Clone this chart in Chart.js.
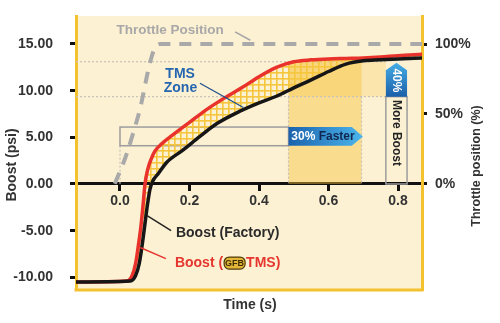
<!DOCTYPE html>
<html lang="en">
<head>
<meta charset="UTF-8">
<title>Boost vs Throttle Position</title>
<style>
  html, body { margin: 0; padding: 0; background: #fff; }
  #wrap { width: 500px; height: 323px; }
</style>
</head>
<body>
<div id="wrap"><canvas id="boostChart" width="500" height="323"></canvas></div>
<script src="https://cdn.jsdelivr.net/npm/chart.js"></script>
<script>
// values
const tmsTime  = [-0.13, 0.02, 0.035, 0.045, 0.052, 0.06, 0.066, 0.072, 0.08, 0.09, 0.1, 0.12, 0.15, 0.2, 0.25, 0.3, 0.35, 0.4, 0.45, 0.5, 0.55, 0.6, 0.65, 0.7, 0.75, 0.8, 0.87];
const tmsBoost = [-10.5, -10.4, -9.8, -8.5, -6.8, -4.6, -2.4, 0.0, 1.6, 2.7, 3.5, 4.3, 5.2, 6.6, 8.0, 9.2, 10.3, 11.5, 12.5, 13.1, 13.3, 13.4, 13.45, 13.5, 13.6, 13.75, 13.9];

const factoryTime  = [-0.13, 0.03, 0.045, 0.055, 0.062, 0.07, 0.078, 0.086, 0.094, 0.11, 0.134, 0.18, 0.23, 0.28, 0.345, 0.4, 0.45, 0.5, 0.55, 0.6, 0.65, 0.7, 0.75, 0.8, 0.87];
const factoryBoost = [-10.5, -10.4, -9.8, -8.6, -7.0, -4.8, -2.5, -0.6, 0.3, 1.1, 2.3, 3.6, 5.1, 6.5, 7.8, 8.7, 9.4, 10.3, 11.15, 12.05, 12.85, 13.2, 13.3, 13.4, 13.5];

const throttleTime = [-0.015, -0.01, 0.0, 0.01, 0.02, 0.04, 0.06, 0.07, 0.08, 0.09, 0.1, 0.115, 0.13, 0.87];
const throttlePct  = [0, 3, 9, 15, 22, 38, 56, 68, 80, 90, 97, 100, 100, 100];

const timeTicks = [0, 0.2, 0.4, 0.6, 0.8];
const boostTicks = [-10, -5, 0, 5, 10, 15];
const throttleTicks = [0, 50, 100];

const FONT = '"Liberation Sans", Arial, sans-serif';
const CREAM = '#fdf1d3';
const GOLD = '#f4c22f';

function toPoints(xs, ys) {
    return xs.map((x, i) => ({ x: x, y: ys[i] }));
}

function gridPattern() {
    const c = document.createElement('canvas');
    c.width = 6; c.height = 6;
    const g = c.getContext('2d');
    g.fillStyle = '#f6c63e';
    g.fillRect(0, 0, 6, 1.6);
    g.fillRect(0, 0, 1.6, 6);
    return g.createPattern(c, 'repeat');
}

function seg(ctx, x1, y1, x2, y2) {
    ctx.beginPath();
    ctx.moveTo(x1, y1);
    ctx.lineTo(x2, y2);
    ctx.stroke();
}

function label(ctx, str, x, y, size, color, align, rot) {
    ctx.save();
    ctx.translate(x, y);
    if (rot) ctx.rotate(rot);
    ctx.font = 'bold ' + size + 'px ' + FONT;
    ctx.fillStyle = color;
    ctx.textAlign = align || 'left';
    ctx.textBaseline = 'middle';
    ctx.fillText(str, 0, 0);
    ctx.restore();
}

// no extra label padding, so the plot area sits where the reference has it
function noPad(s) {
    s.paddingTop = 0; s.paddingBottom = 0;
    s.paddingLeft = 0; s.paddingRight = 0;
}

// background, zones, callouts and axis titles
const annotate = {
    id: 'annotate',
    beforeDraw(chart) {
        const { ctx, chartArea: a } = chart;
        ctx.save();
        ctx.fillStyle = CREAM;
        ctx.fillRect(a.left, a.top, a.right - a.left, a.bottom - a.top);
        ctx.restore();
    },
    beforeDatasetsDraw(chart) {
        const { ctx, chartArea: a, scales } = chart;
        const X = v => scales.x.getPixelForValue(v);
        const Y = v => scales.y.getPixelForValue(v);
        ctx.save();
        ctx.fillStyle = 'rgba(247,196,60,0.45)';
        ctx.fillRect(X(0.485), Y(13.1), X(0.695) - X(0.485), Y(0) - Y(13.1));
        ctx.fillStyle = 'rgba(247,196,60,0.25)';
        ctx.fillRect(X(0.485), Y(13.1), X(0.765) - X(0.485), Y(9.36) - Y(13.1));

        ctx.strokeStyle = '#c7c2b8';
        ctx.lineWidth = 1.2;
        ctx.setLineDash([2, 2]);
        seg(ctx, a.left, Y(13.1), X(0.765), Y(13.1));
        seg(ctx, a.left, Y(9.36), X(0.765), Y(9.36));
        seg(ctx, X(0.485), Y(9.36), X(0.485), Y(0));
        seg(ctx, X(0.695), Y(9.36), X(0.695), Y(0));
        seg(ctx, X(0), Y(4.1), X(0), Y(0));
        ctx.setLineDash([]);

        ctx.strokeStyle = '#9c9c9c';
        ctx.lineWidth = 1.5;
        ctx.strokeRect(X(0), Y(6.1), X(0.485) - X(0), Y(4.1) - Y(6.1));
        ctx.strokeRect(X(0.765), Y(9.36), X(0.826) - X(0.765), Y(0) - Y(9.36));
        ctx.restore();
    },
    afterDatasetsDraw(chart) {
        const { ctx, chartArea: a, scales } = chart;
        const X = v => scales.x.getPixelForValue(v);
        const Y = v => scales.y.getPixelForValue(v);
        ctx.save();

        // "30% Faster" arrow
        let x0 = X(0.485), x1 = X(0.667), x2 = X(0.699), yT = Y(6.1), yB = Y(4.1);
        let gr = ctx.createLinearGradient(x0, 0, x2, 0);
        gr.addColorStop(0, '#1b62ad');
        gr.addColorStop(1, '#4cb6ec');
        ctx.fillStyle = gr;
        ctx.beginPath();
        ctx.moveTo(x0, yT); ctx.lineTo(x1, yT); ctx.lineTo(x2, (yT + yB) / 2);
        ctx.lineTo(x1, yB); ctx.lineTo(x0, yB); ctx.closePath();
        ctx.fill();
        ctx.font = 'bold 12px ' + FONT;
        const w30 = ctx.measureText('30% ').width;
        label(ctx, '30% ', X(0.493), Y(5.1), 12, '#ffffff', 'left');
        label(ctx, 'Faster', X(0.493) + w30, Y(5.1), 12, '#10284f', 'left');

        // "40%" arrow
        const bl = X(0.765), br = X(0.826);
        const yBase = Y(9.36), yShoulder = Y(12.2), yTip = Y(13.0);
        gr = ctx.createLinearGradient(0, yBase, 0, yTip);
        gr.addColorStop(0, '#1b5fa9');
        gr.addColorStop(1, '#45aee6');
        ctx.fillStyle = gr;
        ctx.beginPath();
        ctx.moveTo(bl, yBase); ctx.lineTo(bl, yShoulder); ctx.lineTo((bl + br) / 2, yTip);
        ctx.lineTo(br, yShoulder); ctx.lineTo(br, yBase); ctx.closePath();
        ctx.fill();
        label(ctx, '40%', (bl + br) / 2, Y(11.1), 12, '#ffffff', 'center', Math.PI / 2);
        label(ctx, 'More Boost', (bl + br) / 2, Y(5.47), 12, '#222222', 'center', Math.PI / 2);

        // text callouts
        label(ctx, 'Throttle Position', X(0.144), Y(16.5), 13.5, '#a8a8a8', 'center');
        ctx.strokeStyle = '#a5a5a5'; ctx.lineWidth = 1.5;
        seg(ctx, X(0.331), Y(16.3), X(0.375), Y(15.4));

        label(ctx, 'TMS', X(0.173), Y(11.8), 14, '#2466b0', 'center');
        label(ctx, 'Zone', X(0.174), Y(10.26), 14, '#2466b0', 'center');
        ctx.strokeStyle = '#1f4f8c'; ctx.lineWidth = 1.3;
        seg(ctx, X(0.23), Y(10.8), X(0.355), Y(8.2));

        label(ctx, 'Boost (Factory)', X(0.161), Y(-5.25), 14, '#2a2a2a', 'left');
        ctx.strokeStyle = '#222'; ctx.lineWidth = 1.5;
        seg(ctx, X(0.078), Y(-3.4), X(0.147), Y(-5.0));

        const tx = X(0.158), ty = Y(-8.47);
        ctx.font = 'bold 14px ' + FONT;
        const wB = ctx.measureText('Boost (').width;
        label(ctx, 'Boost (', tx, ty, 14, '#e5362f', 'left');
        ctx.fillStyle = '#e2b53a'; ctx.strokeStyle = '#4d3a05'; ctx.lineWidth = 1.2;
        ctx.beginPath();
        ctx.roundRect(tx + wB + 1, ty - 6, 21, 12, 5);
        ctx.fill(); ctx.stroke();
        label(ctx, 'GFB', tx + wB + 11.5, ty + 0.5, 9, '#3d2d00', 'center');
        label(ctx, 'TMS)', tx + wB + 23, ty, 14, '#e5362f', 'left');
        ctx.strokeStyle = '#e5362f'; ctx.lineWidth = 1.5;
        seg(ctx, X(0.058), Y(-6.8), X(0.132), Y(-8.0));

        // bottom frame line
        ctx.strokeStyle = GOLD; ctx.lineWidth = 3;
        seg(ctx, a.left - 1.5, a.bottom, a.right + 1.5, a.bottom);

        // axis titles
        label(ctx, 'Boost (psi)', 12, 165, 14, '#333', 'center', -Math.PI / 2);
        label(ctx, 'Throttle position (%)', 477, 166, 12.5, '#333', 'center', -Math.PI / 2);
        label(ctx, 'Time (s)', (a.left + a.right) / 2 + 1, 305, 14, '#333', 'center');
        ctx.restore();
    }
};

const tickFont = { family: FONT, size: 14, weight: 'bold' };

const ctx = document.getElementById('boostChart').getContext('2d');
new Chart(ctx, {
    type: 'line',
    data: {
        datasets: [
            {
                label: 'Boost (TMS)',
                data: toPoints(tmsTime, tmsBoost),
                yAxisID: 'y',
                borderColor: '#e8322b',
                borderWidth: 3.5,
                pointRadius: 0,
                cubicInterpolationMode: 'monotone',
                fill: { target: '+1', above: gridPattern(), below: 'rgba(0,0,0,0)' },
                order: 2
            },
            {
                label: 'Boost (Factory)',
                data: toPoints(factoryTime, factoryBoost),
                yAxisID: 'y',
                borderColor: '#161616',
                borderWidth: 3.5,
                pointRadius: 0,
                cubicInterpolationMode: 'monotone',
                fill: false,
                order: 1
            },
            {
                label: 'Throttle Position',
                data: toPoints(throttleTime, throttlePct),
                yAxisID: 'y1',
                borderColor: '#a9a9a9',
                borderWidth: 4,
                borderDash: [12, 9],
                pointRadius: 0,
                cubicInterpolationMode: 'monotone',
                fill: false,
                order: 3
            }
        ]
    },
    options: {
        responsive: false,
        animation: false,
        devicePixelRatio: 1,
        events: [],
        layout: { padding: { top: 16, bottom: 33, left: 0, right: 0 } },
        plugins: { legend: { display: false }, tooltip: { enabled: false } },
        scales: {
            x: {
                type: 'linear',
                position: { y: 0 },
                min: -0.1266,
                max: 0.869,
                z: 1,
                afterFit: noPad,
                afterBuildTicks: s => { s.ticks = timeTicks.map(v => ({ value: v })); },
                ticks: { font: tickFont, color: '#333', padding: 3, callback: v => v.toFixed(1) },
                grid: { drawOnChartArea: false, drawTicks: true, tickLength: 6, tickColor: '#111', tickWidth: 3 },
                border: { color: '#111', width: 3 }
            },
            y: {
                type: 'linear',
                position: 'left',
                min: -11.36,
                max: 18.0,
                afterFit: s => { s.width = 76; noPad(s); },
                afterBuildTicks: s => { s.ticks = boostTicks.map(v => ({ value: v })); },
                ticks: { font: tickFont, color: '#333', padding: 17, callback: v => v.toFixed(2) },
                grid: { drawOnChartArea: false, drawTicks: true, tickLength: 6, tickColor: '#111', tickWidth: 3 },
                border: { color: GOLD, width: 3 }
            },
            y1: {
                type: 'linear',
                position: 'right',
                min: -75.97,
                max: 120.03,
                afterFit: s => { s.width = 78; noPad(s); },
                afterBuildTicks: s => { s.ticks = throttleTicks.map(v => ({ value: v })); },
                ticks: { font: tickFont, color: '#333', padding: 8, callback: v => v + '%' },
                grid: { drawOnChartArea: false, drawTicks: true, tickLength: 5, tickColor: '#111', tickWidth: 3 },
                border: { color: GOLD, width: 3 }
            }
        }
    },
    plugins: [annotate]
});
</script>
</body>
</html>
